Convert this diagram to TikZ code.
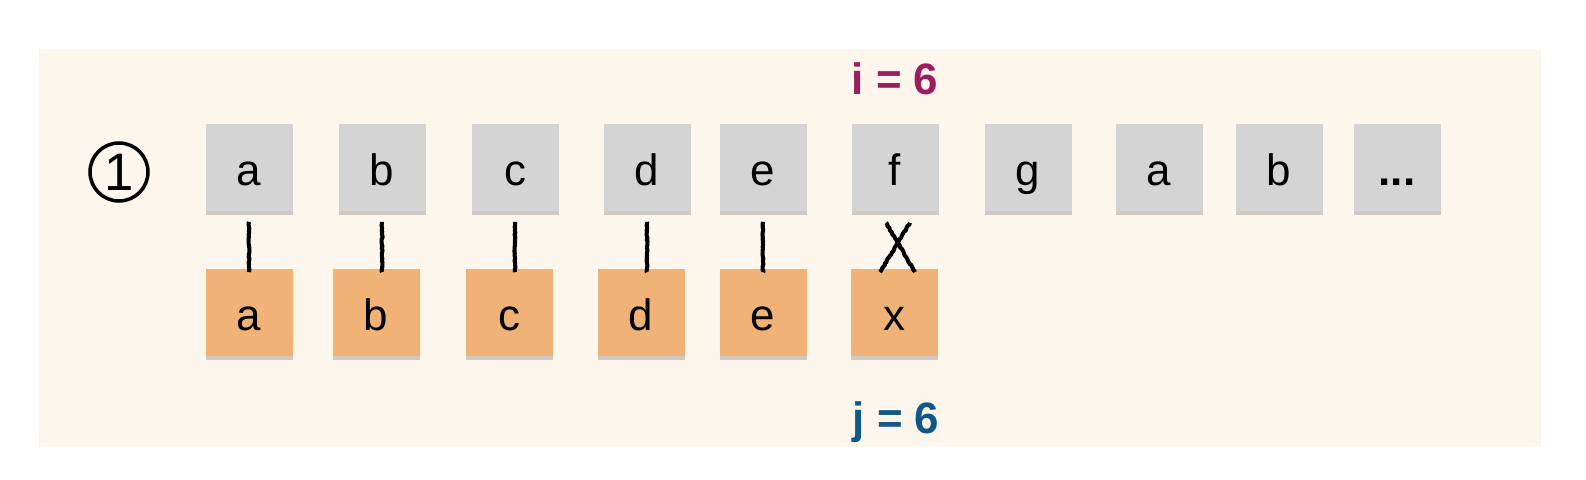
\documentclass[tikz,border=0pt]{standalone}
\usepackage{fontspec}
\setmainfont{Liberation Sans}
\usepackage{xcolor}
\usepackage{tikz}
\usetikzlibrary{shadows,calc,decorations.pathmorphing}
\definecolor{bgcream}{HTML}{FDF6EC}
\definecolor{boxgrey}{HTML}{D4D4D4}
\definecolor{boxorange}{HTML}{F0B277}
\definecolor{idxpurple}{HTML}{9B1D5F}
\definecolor{idxblue}{HTML}{11588A}

\begin{document}
\begin{tikzpicture}[
  x=0.2mm, y=-0.2mm,
  every node/.style={font=\fontsize{25}{29}\selectfont},
  cell/.style={rectangle, minimum size=17.4mm, inner sep=0pt,
               text height=20pt, text depth=0pt,
               drop shadow={shadow xshift=0pt, shadow yshift=-0.7mm,
                            opacity=0.18, fill=black}},
  topbox/.style={cell, fill=boxgrey},
  botbox/.style={cell, fill=boxorange},
  idx/.style={font=\fontsize{25}{30}\selectfont\bfseries, anchor=base},
  ln/.style={line width=2.3pt, line join=round, line cap=butt, decorate,
             decoration={random steps, segment length=1pt, amplitude=0.3pt}}
]
\useasboundingbox (0,0) rectangle (1586,480);
\fill[bgcream] (39,49) rectangle (1541,447);

\node[circle, draw, line width=2pt, minimum size=11.6mm, inner sep=0pt,
      font=\fontsize{30}{32}\selectfont] (step) at (119,172) {1};

\node[idx, text=idxpurple] (iidx) at (895,95) {i = 6};
\node[idx, text=idxblue]   (jidx) at (896,433) {j = 6};

% pattern row
\node[topbox] (ta)    at (249,168)  {a};
\node[topbox] (tb)    at (382,168)  {b};
\node[topbox] (tc)    at (515,168)  {c};
\node[topbox] (td)    at (647,168)  {d};
\node[topbox] (te)    at (763,168)  {e};
\node[topbox] (tf)    at (895,168)  {f};
\node[topbox] (tg)    at (1028,168) {g};
\node[topbox] (ta2)   at (1159,168) {a};
\node[topbox] (tb2)   at (1279,168) {b};
\node[topbox] (tdots) at (1397,168) {\textbf{...}};

% compared row
\node[botbox] (ba) at (249,313) {a};
\node[botbox] (bb) at (376,313) {b};
\node[botbox] (bc) at (509,313) {c};
\node[botbox] (bd) at (641,313) {d};
\node[botbox] (be) at (763,313) {e};
\node[botbox] (bx) at (894,313) {x};

\draw[ln] ($(ta.south)+(0,10)$) -- ($(ta.south |- ba.north)+(0,3)$);
\draw[ln] ($(tb.south)+(0,10)$) -- ($(tb.south |- bb.north)+(0,3)$);
\draw[ln] ($(tc.south)+(0,10)$) -- ($(tc.south |- bc.north)+(0,3)$);
\draw[ln] ($(td.south)+(0,10)$) -- ($(td.south |- bd.north)+(0,3)$);
\draw[ln] ($(te.south)+(0,10)$) -- ($(te.south |- be.north)+(0,3)$);

\coordinate (xa) at ($(tf.south)+(-9,11)$);
\coordinate (xb) at ($(bx.north)+(21,3)$);
\coordinate (xc) at ($(tf.south)+(15,11)$);
\coordinate (xd) at ($(bx.north)+(-14,3)$);
\draw[ln] (xa) -- (xb);
\draw[ln] (xc) -- (xd);
\end{tikzpicture}
\end{document}
